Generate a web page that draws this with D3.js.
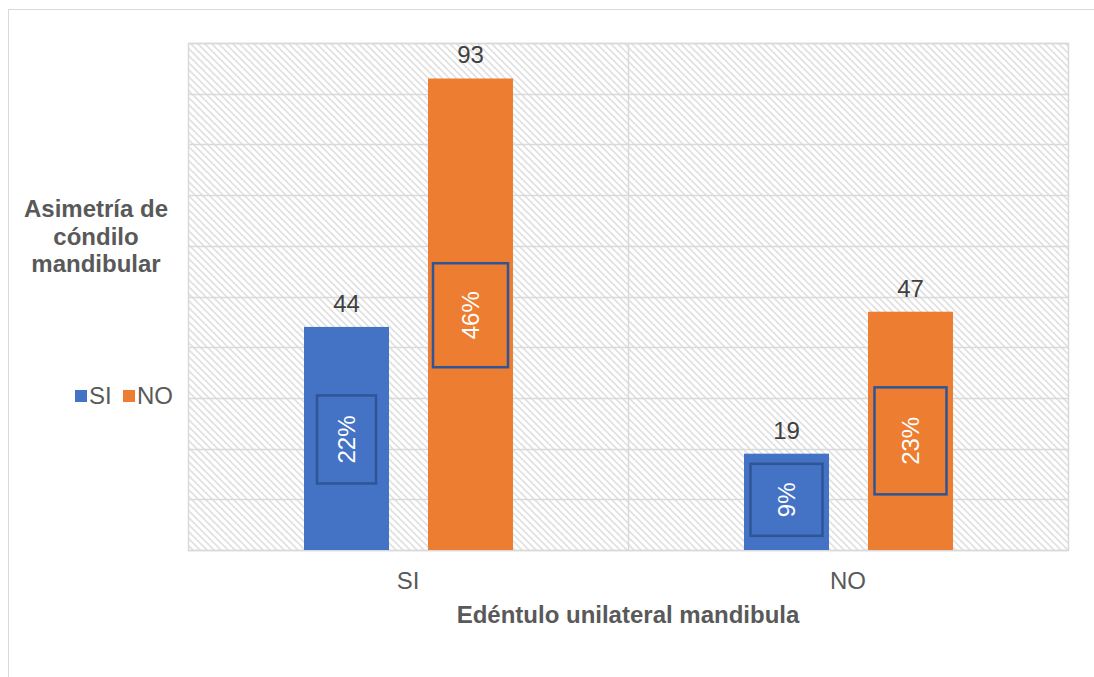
<!DOCTYPE html>
<html>
<head>
<meta charset="utf-8">
<script src="https://cdn.jsdelivr.net/npm/d3@7"></script>
<style>
  body { margin: 0; background: #fff; }
  svg { font-family: "Liberation Sans", Arial, sans-serif; }
</style>
</head>
<body>
<svg id="chart" width="1094" height="677"></svg>
<script>
// datos
var categories = ["SI", "NO"];
var seriesNames = ["SI", "NO"];
var siValues = [44, 19];
var noValues = [93, 47];
var siPercent = ["22%", "9%"];
var noPercent = ["46%", "23%"];

// estilo de las cajas de etiquetas (ancho, alto, desplazamiento vertical)
var labelBoxes = {
    SI: [[59, 88, 1], [72, 72, -2]],
    NO: [[75, 104, 1], [72, 107, 10]]
};

var colors = { SI: "#4472C4", NO: "#ED7D31" };

var svg = d3.select("#chart");

// borde exterior
svg.append("rect")
    .attr("x", 8.5).attr("y", 9.5)
    .attr("width", 1200).attr("height", 800)
    .attr("fill", "none").attr("stroke", "#d9d9d9");

// patrón de rayas diagonales
var defs = svg.append("defs");
var pat = defs.append("pattern")
    .attr("id", "hatch")
    .attr("patternUnits", "userSpaceOnUse")
    .attr("width", 7).attr("height", 7);
pat.append("path")
    .attr("d", "M-1,-1 L8,8 M-4,3 L4,11 M3,-4 L11,4")
    .attr("stroke", "#e0e0e0")
    .attr("stroke-width", 1.6);

var plot = { left: 188, right: 1068, top: 43, bottom: 550 };

var x0 = d3.scaleBand().domain(categories).range([plot.left, plot.right]);
var x1 = d3.scaleBand().domain(seriesNames).range([116, 325]).paddingInner(39 / 124);
var y = d3.scaleLinear().domain([0, 100]).range([plot.bottom, plot.top]);

// fondo del área de trazado
svg.append("rect")
    .attr("x", plot.left).attr("y", plot.top)
    .attr("width", plot.right - plot.left).attr("height", plot.bottom - plot.top)
    .attr("fill", "url(#hatch)");

// líneas de cuadrícula
svg.append("g")
    .selectAll("line")
    .data(y.ticks(10))
    .enter()
    .append("line")
    .attr("x1", plot.left).attr("x2", plot.right)
    .attr("y1", function (d) { return Math.round(y(d)) + 0.5; })
    .attr("y2", function (d) { return Math.round(y(d)) + 0.5; })
    .attr("stroke", "#d9d9d9")
    .attr("stroke-width", 1.5);

// separador de categorías
svg.append("line")
    .attr("x1", x0("NO") + 0.5).attr("x2", x0("NO") + 0.5)
    .attr("y1", plot.top).attr("y2", plot.bottom)
    .attr("stroke", "#d9d9d9").attr("stroke-width", 1.5);

// borde del área de trazado
svg.append("rect")
    .attr("x", plot.left + 0.5).attr("y", plot.top + 0.5)
    .attr("width", plot.right - plot.left).attr("height", plot.bottom - plot.top)
    .attr("fill", "none").attr("stroke", "#d9d9d9").attr("stroke-width", 1.5);

// construir los puntos
var points = [];
categories.forEach(function (c, i) {
    points.push({ cat: c, ser: "SI", value: siValues[i], pct: siPercent[i], box: labelBoxes.SI[i] });
    points.push({ cat: c, ser: "NO", value: noValues[i], pct: noPercent[i], box: labelBoxes.NO[i] });
});

var bars = svg.append("g")
    .selectAll("g")
    .data(points)
    .enter()
    .append("g");

bars.append("rect")
    .attr("x", function (d) { return x0(d.cat) + x1(d.ser); })
    .attr("y", function (d) { return y(d.value); })
    .attr("width", x1.bandwidth())
    .attr("height", function (d) { return y(0) - y(d.value); })
    .attr("fill", function (d) { return colors[d.ser]; });

// valores encima de las barras
bars.append("text")
    .attr("x", function (d) { return x0(d.cat) + x1(d.ser) + x1.bandwidth() / 2; })
    .attr("y", function (d) { return y(d.value) - 15; })
    .attr("text-anchor", "middle")
    .attr("font-size", 24)
    .attr("fill", "#404040")
    .text(function (d) { return d.value; });

function labelY(d) {
    return (y(d.value) + y(0)) / 2 + d.box[2];
}

// cajas con porcentajes
bars.append("rect")
    .attr("x", function (d) { return x0(d.cat) + x1(d.ser) + x1.bandwidth() / 2 - d.box[0] / 2; })
    .attr("y", function (d) { return labelY(d) - d.box[1] / 2; })
    .attr("width", function (d) { return d.box[0]; })
    .attr("height", function (d) { return d.box[1]; })
    .attr("fill", "none")
    .attr("stroke", "#2F5597")
    .attr("stroke-width", 2.5);

bars.append("text")
    .attr("transform", function (d) {
        var cx = x0(d.cat) + x1(d.ser) + x1.bandwidth() / 2;
        return "translate(" + cx + "," + labelY(d) + ") rotate(-90)";
    })
    .attr("text-anchor", "middle")
    .attr("dy", "0.36em")
    .attr("font-size", 24)
    .attr("fill", "#ffffff")
    .text(function (d) { return d.pct; });

// etiquetas del eje x
svg.append("g")
    .selectAll("text")
    .data(categories)
    .enter()
    .append("text")
    .attr("x", function (d) { return x0(d) + x0.bandwidth() / 2; })
    .attr("y", 589)
    .attr("text-anchor", "middle")
    .attr("font-size", 24)
    .attr("fill", "#595959")
    .text(function (d) { return d; });

// título eje x
svg.append("text")
    .attr("x", (plot.left + plot.right) / 2)
    .attr("y", 623)
    .attr("text-anchor", "middle")
    .attr("font-size", 24)
    .attr("font-weight", "bold")
    .attr("fill", "#595959")
    .text("Edéntulo unilateral mandibula");

// título eje y
var yTitle = svg.append("text")
    .attr("text-anchor", "middle")
    .attr("font-size", 24)
    .attr("font-weight", "bold")
    .attr("fill", "#595959");
["Asimetría de", "cóndilo", "mandibular"].forEach(function (t, i) {
    yTitle.append("tspan").attr("x", 96).attr("y", 217 + i * 27.5).text(t);
});

// leyenda
var legend = svg.append("g");
var legendX = [75, 123];
seriesNames.forEach(function (s, i) {
    legend.append("rect")
        .attr("x", legendX[i]).attr("y", 390)
        .attr("width", 12).attr("height", 12)
        .attr("fill", colors[s]);
    legend.append("text")
        .attr("x", legendX[i] + 14).attr("y", 404)
        .attr("font-size", 24)
        .attr("fill", "#595959")
        .text(s);
});
</script>
</body>
</html>
